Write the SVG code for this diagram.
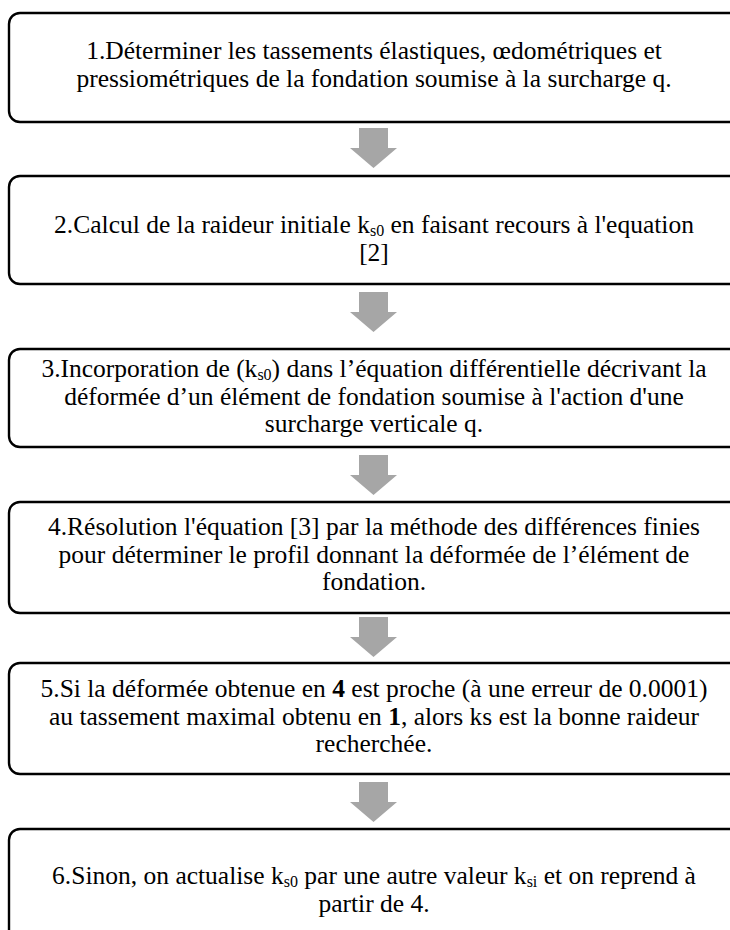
<svg xmlns="http://www.w3.org/2000/svg" width="730" height="930" viewBox="0 0 730 930">
<style>
.box{fill:#fff;stroke:#000;stroke-width:2.4}
.t{font-family:'Liberation Serif','Times New Roman','DejaVu Serif',serif;font-size:25.5px;fill:#000;text-anchor:middle}
.arr{fill:#a6a6a6}
.sub{font-size:16px}
</style>
<defs>
<path id="arrow" d="M-14.5,0 H14.5 V20 H23.5 L0,40 L-23.5,20 H-14.5 Z"/>
</defs>
<g id="connectors">
<use href="#arrow" class="arr" x="373.5" y="128"/>
<use href="#arrow" class="arr" x="373.5" y="292"/>
<use href="#arrow" class="arr" x="373.5" y="455"/>
<use href="#arrow" class="arr" x="373.5" y="617"/>
<use href="#arrow" class="arr" x="373.5" y="782"/>
</g>
<g id="n1">
<rect class="box" x="9" y="13" width="732" height="109" rx="11"/>
<text class="t" x="374" y="59">1.Déterminer les tassements élastiques, œdométriques et</text>
<text class="t" x="374" y="87">pressiométriques de la fondation soumise à la surcharge q.</text>
</g>
<g id="n2">
<rect class="box" x="9" y="176" width="732" height="108" rx="11"/>
<text class="t" x="374" y="233">2.Calcul de la raideur initiale k<tspan class="sub" dy="3">s0</tspan><tspan dy="-3"> en faisant recours à l'equation</tspan></text>
<text class="t" x="374" y="261">[2]</text>
</g>
<g id="n3">
<rect class="box" x="9" y="349" width="732" height="98" rx="11"/>
<text class="t" x="374" y="376.5">3.Incorporation de (k<tspan class="sub" dy="3">s0</tspan><tspan dy="-3">) dans l’équation différentielle décrivant la</tspan></text>
<text class="t" x="374" y="404.5">déformée d’un élément de fondation soumise à l'action d'une</text>
<text class="t" x="374" y="432">surcharge verticale q.</text>
</g>
<g id="n4">
<rect class="box" x="9" y="502" width="732" height="111" rx="11"/>
<text class="t" x="374" y="535">4.Résolution l'équation [3] par la méthode des différences finies</text>
<text class="t" x="374" y="562.5">pour déterminer le profil donnant la déformée de l’élément de</text>
<text class="t" x="374" y="590">fondation.</text>
</g>
<g id="n5">
<rect class="box" x="9" y="663" width="732" height="111" rx="11"/>
<text class="t" x="374" y="697">5.Si la déformée obtenue en <tspan font-weight="bold">4</tspan> est proche (à une erreur de 0.0001)</text>
<text class="t" x="374" y="724.5">au tassement maximal obtenu en <tspan font-weight="bold">1</tspan>, alors ks est la bonne raideur</text>
<text class="t" x="374" y="752">recherchée.</text>
</g>
<g id="n6">
<rect class="box" x="9" y="829" width="732" height="130" rx="11"/>
<text class="t" x="374" y="884">6.Sinon, on actualise k<tspan class="sub" dy="3">s0</tspan><tspan dy="-3"> par une autre valeur k</tspan><tspan class="sub" dy="3">si</tspan><tspan dy="-3"> et on reprend à</tspan></text>
<text class="t" x="374" y="911.5">partir de 4.</text>
</g>
</svg>
